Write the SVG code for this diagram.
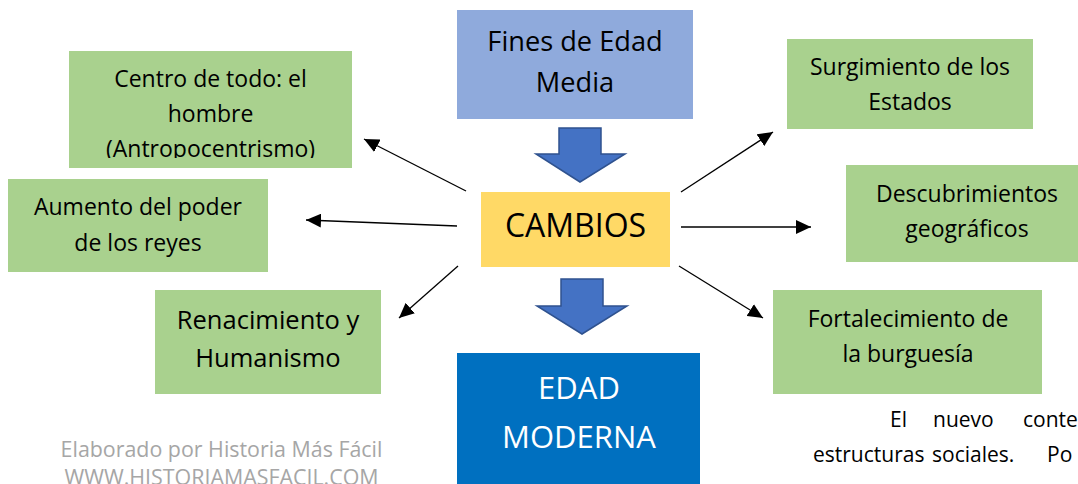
<svg xmlns="http://www.w3.org/2000/svg" width="1078" height="484" viewBox="0 0 1078 484">
<style>
  text { font-family: "Open Sans", "Noto Sans", sans-serif; fill: #000; }
  .lbl { font-size: 23px; text-anchor: middle; }
  .green { fill: #a9d18e; }
  .conn { stroke: #000; stroke-width: 1.3; fill: none; marker-end: url(#ah); }
  .blk { fill: #4472c4; stroke: #2f528f; stroke-width: 1.5; }
  .wm { fill: #a6a6a6; font-size: 21.4px; text-anchor: middle; }
  .para { font-size: 21px; }
</style>
<defs>
  <marker id="ah" markerUnits="userSpaceOnUse" markerWidth="16" markerHeight="14" refX="15" refY="7" orient="auto">
    <path d="M0,0 L15,7 L0,14 z" fill="#000"/>
  </marker>
  <clipPath id="clipCentro"><rect x="69" y="51" width="283" height="107"/></clipPath>
</defs>
<rect width="1078" height="484" fill="#fff"/>

<g id="fines">
  <rect x="457" y="10" width="236" height="109" fill="#8faadc"/>
  <text class="lbl" x="575" y="51" style="font-size:27.2px">Fines de Edad</text>
  <text class="lbl" x="575" y="92" style="font-size:27.2px">Media</text>
</g>

<g id="flecha1">
  <path class="blk" d="M559,128 L601,128 L601,154 L625,154 L580,182 L536,154 L559,154 z"/>
</g>

<g id="cambios">
  <rect x="481" y="192" width="189" height="75" fill="#ffd966"/>
  <text class="lbl" x="575.5" y="237" style="font-size:32px">CAMBIOS</text>
</g>

<g id="flecha2">
  <path class="blk" d="M561,279 L603,279 L603,306 L627,306 L582,334 L537,306 L561,306 z"/>
</g>

<g id="edad-moderna">
  <rect x="457" y="353" width="243" height="140" fill="#0070c0"/>
  <text class="lbl" x="579" y="399" style="font-size:31px;fill:#fff">EDAD</text>
  <text class="lbl" x="579" y="448" style="font-size:31px;fill:#fff">MODERNA</text>
</g>

<g id="centro">
  <rect class="green" x="69" y="51" width="283" height="117"/>
  <g clip-path="url(#clipCentro)">
    <text class="lbl" x="210.5" y="87">Centro de todo: el</text>
    <text class="lbl" x="210.5" y="122">hombre</text>
    <text class="lbl" x="210.5" y="157">(Antropocentrismo)</text>
  </g>
</g>

<g id="aumento">
  <rect class="green" x="8" y="179" width="260" height="93"/>
  <text class="lbl" x="138" y="215">Aumento del poder</text>
  <text class="lbl" x="138" y="251">de los reyes</text>
</g>

<g id="renacimiento">
  <rect class="green" x="155" y="290" width="226" height="104"/>
  <text class="lbl" x="268" y="329" style="font-size:25.5px">Renacimiento y</text>
  <text class="lbl" x="268" y="367" style="font-size:25.5px">Humanismo</text>
</g>

<g id="surgimiento">
  <rect class="green" x="787" y="39" width="246" height="90"/>
  <text class="lbl" x="910" y="75">Surgimiento de los</text>
  <text class="lbl" x="910" y="110">Estados</text>
</g>

<g id="descubrimientos">
  <rect class="green" x="846" y="165" width="240" height="97"/>
  <text class="lbl" x="967" y="202">Descubrimientos</text>
  <text class="lbl" x="967" y="237">geográficos</text>
</g>

<g id="fortalecimiento">
  <rect class="green" x="773" y="290" width="269" height="104"/>
  <text class="lbl" x="908" y="327">Fortalecimiento de</text>
  <text class="lbl" x="908" y="362">la burguesía</text>
</g>

<g id="conectores">
  <line class="conn" x1="466" y1="191" x2="364" y2="139"/>
  <line class="conn" x1="457" y1="226" x2="306" y2="220"/>
  <line class="conn" x1="458" y1="266" x2="399" y2="318"/>
  <line class="conn" x1="681" y1="192" x2="773" y2="132"/>
  <line class="conn" x1="681" y1="227" x2="811" y2="227"/>
  <line class="conn" x1="679" y1="266" x2="763" y2="318"/>
</g>

<g id="marca">
  <text class="wm" x="221.5" y="457">Elaborado por Historia Más Fácil</text>
  <text class="wm" x="221.5" y="485">WWW.HISTORIAMASFACIL.COM</text>
</g>

<g id="parrafo">
  <text class="para" y="427"><tspan x="890">El</tspan><tspan x="933">nuevo</tspan><tspan x="1023">conte</tspan></text>
  <text class="para" y="462"><tspan x="813">estructuras</tspan><tspan x="932">sociales.</tspan><tspan x="1047">Po</tspan></text>
</g>
</svg>
